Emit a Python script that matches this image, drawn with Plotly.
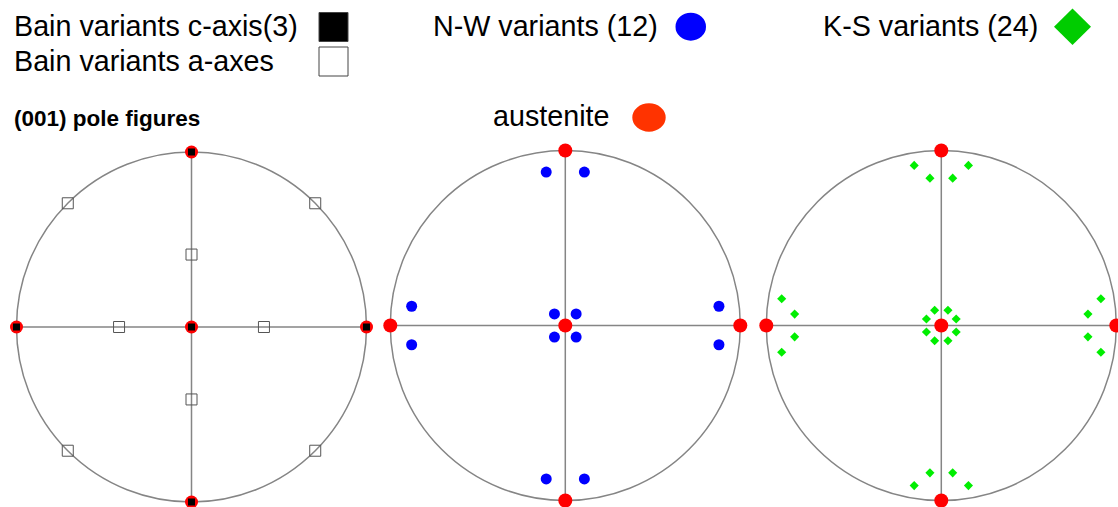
import plotly.graph_objects as go

W, H = 1118, 507
R = 175.0  # pixels per unit of the stereographic projection

# centres of the three pole figures (pixels, origin top-left)
centres = [(191.5, 327.0), (565.3, 325.5), (941.3, 325.5)]

# austenite {001} poles
aus_x = [0.0, 0.0, 0.0, -1.0, 1.0]
aus_y = [0.0, 1.0, -1.0, 0.0, 0.0]

# Bain variants: c-axes (3 variants -> the three cube axes)
bain_c_x = [0.0, 0.0, 0.0, -1.0, 1.0]
bain_c_y = [0.0, 1.0, -1.0, 0.0, 0.0]

# Bain variants: a-axes
bain_a_x = [-0.707, 0.707, -0.707, 0.707, 0.0, 0.0, -0.414, 0.414]
bain_a_y = [0.707, 0.707, -0.707, -0.707, 0.414, -0.414, 0.0, 0.0]

# Nishiyama-Wassermann variants (12)
nw_x = [-0.109, 0.109, -0.109, 0.109,
        -0.878, -0.878, 0.878, 0.878,
        -0.062, 0.062, -0.062, 0.062]
nw_y = [0.877, 0.877, -0.877, -0.877,
        0.110, -0.110, 0.110, -0.110,
        0.066, 0.066, -0.066, -0.066]

# Kurdjumov-Sachs variants (24)
ks_x = [-0.155, 0.155, -0.065, 0.065,
        -0.155, 0.155, -0.065, 0.065,
        -0.912, -0.912, -0.838, -0.838,
        0.912, 0.912, 0.838, 0.838,
        -0.038, 0.038, -0.038, 0.038,
        -0.085, 0.085, -0.085, 0.085]
ks_y = [0.915, 0.915, 0.842, 0.842,
        -0.915, -0.915, -0.842, -0.842,
        0.153, -0.153, 0.065, -0.065,
        0.153, -0.153, 0.065, -0.065,
        0.087, 0.087, -0.087, -0.087,
        0.037, 0.037, -0.037, -0.037]

GREY = "#858585"
RED = "#ff0000"

fig = go.Figure()
layout_axes = {}
shapes = []

for i, (cx, cy) in enumerate(centres):
    n = "" if i == 0 else str(i + 1)
    x0p, x1p = max(0.0, cx - 182), min(W, cx + 182)
    topp, botp = max(0.0, cy - 182), min(H, cy + 182)
    layout_axes["xaxis" + n] = dict(
        domain=[x0p / W, x1p / W], range=[(x0p - cx) / R, (x1p - cx) / R],
        visible=False, fixedrange=True)
    layout_axes["yaxis" + n] = dict(
        domain=[1 - botp / H, 1 - topp / H], range=[-(botp - cy) / R, (cy - topp) / R],
        visible=False, fixedrange=True)
    xr, yr = "x" + n, "y" + n
    shapes.append(dict(type="circle", xref=xr, yref=yr, x0=-1, y0=-1, x1=1, y1=1,
                       line=dict(color=GREY, width=1.5), layer="below"))
    shapes.append(dict(type="line", xref=xr, yref=yr, x0=-1, y0=0, x1=1, y1=0,
                       line=dict(color=GREY, width=1.5), layer="below"))
    shapes.append(dict(type="line", xref=xr, yref=yr, x0=0, y0=-1, x1=0, y1=1,
                       line=dict(color=GREY, width=1.5), layer="below"))

# left: Bain
fig.add_trace(go.Scatter(x=bain_a_x, y=bain_a_y, xaxis="x", yaxis="y", mode="markers",
                         marker=dict(symbol="square-open", size=11, color="#555555",
                                     line=dict(width=1)), cliponaxis=False))
fig.add_trace(go.Scatter(x=aus_x, y=aus_y, xaxis="x", yaxis="y", mode="markers",
                         marker=dict(symbol="circle", size=13, color=RED), cliponaxis=False))
fig.add_trace(go.Scatter(x=bain_c_x, y=bain_c_y, xaxis="x", yaxis="y", mode="markers",
                         marker=dict(symbol="square", size=7, color="black"), cliponaxis=False))

# middle: N-W
fig.add_trace(go.Scatter(x=nw_x, y=nw_y, xaxis="x2", yaxis="y2", mode="markers",
                         marker=dict(symbol="circle", size=11, color="#0000ff"), cliponaxis=False))
fig.add_trace(go.Scatter(x=aus_x, y=aus_y, xaxis="x2", yaxis="y2", mode="markers",
                         marker=dict(symbol="circle", size=14, color=RED), cliponaxis=False))

# right: K-S
fig.add_trace(go.Scatter(x=ks_x, y=ks_y, xaxis="x3", yaxis="y3", mode="markers",
                         marker=dict(symbol="diamond", size=7, color="#00ee00"), cliponaxis=False))
fig.add_trace(go.Scatter(x=aus_x, y=aus_y, xaxis="x3", yaxis="y3", mode="markers",
                         marker=dict(symbol="circle", size=14, color=RED), cliponaxis=False))


def px(x):
    return x / W


def py(y):
    return 1 - y / H


# key symbols
shapes.append(dict(type="rect", xref="paper", yref="paper",
                   x0=px(319), x1=px(348), y0=py(12.5), y1=py(41.5),
                   fillcolor="black", line=dict(color="#444444", width=1)))
shapes.append(dict(type="rect", xref="paper", yref="paper",
                   x0=px(319), x1=px(348), y0=py(47), y1=py(76),
                   fillcolor="white", line=dict(color="#444444", width=1)))
shapes.append(dict(type="circle", xref="paper", yref="paper",
                   x0=px(675.5), x1=px(706), y0=py(12.7), y1=py(40.7),
                   fillcolor="#0000ff", line=dict(color="#0000ff", width=0)))
shapes.append(dict(type="circle", xref="paper", yref="paper",
                   x0=px(632.3), x1=px(665.7), y0=py(103.3), y1=py(131.7),
                   fillcolor="#ff3300", line=dict(color="#ff3300", width=0)))
dcx, dcy, dw, dh = 1072.5, 26.7, 18.5, 18.3
shapes.append(dict(type="path", xref="paper", yref="paper",
                   path=(f"M {px(dcx - dw)} {py(dcy)} L {px(dcx)} {py(dcy - dh)} "
                         f"L {px(dcx + dw)} {py(dcy)} L {px(dcx)} {py(dcy + dh)} Z"),
                   fillcolor="#00cc00", line=dict(color="#00cc00", width=0)))

FONT = "Liberation Sans, Arial, sans-serif"
texts = [
    ("Bain variants c-axis(3)", 11.5, 25.5, 28.7, False),
    ("Bain variants a-axes", 11.5, 60.5, 28.7, False),
    ("N-W variants (12)", 431, 25.5, 28.7, False),
    ("K-S variants (24)", 821, 25.5, 28.7, False),
    ("austenite", 491, 116, 28.7, False),
    ("(001) pole figures", 11.5, 119, 22.5, True),
]
annotations = []
for t, x, y, s, bold in texts:
    annotations.append(dict(
        text=f"<b>{t}</b>" if bold else t, xref="paper", yref="paper",
        x=px(x), y=py(y), xanchor="left", yanchor="middle", showarrow=False,
        font=dict(family=FONT, size=s, color="black")))

fig.update_layout(
    width=W, height=H, margin=dict(l=0, r=0, t=0, b=0),
    paper_bgcolor="white", plot_bgcolor="white", showlegend=False,
    shapes=shapes, annotations=annotations, **layout_axes)

fig.write_html("out.html", config=dict(displayModeBar=False))
